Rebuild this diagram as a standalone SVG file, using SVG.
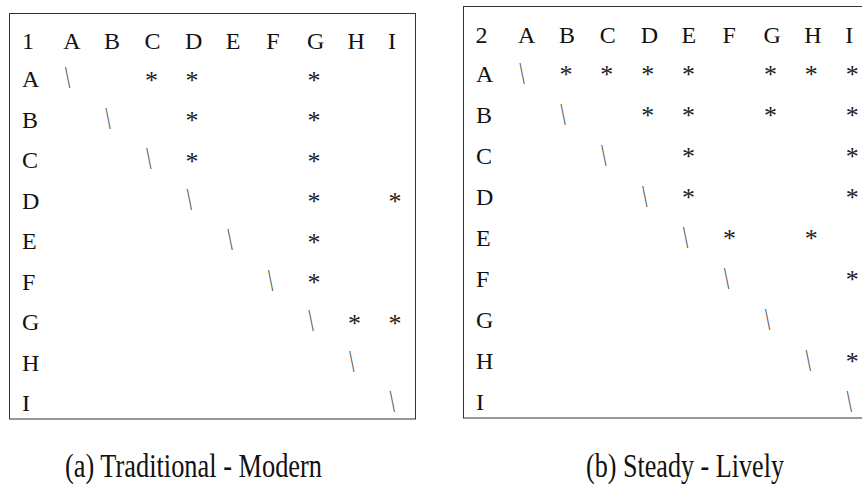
<svg xmlns="http://www.w3.org/2000/svg" width="862" height="492" viewBox="0 0 862 492">
<style>
.box{fill:none;stroke:#333;stroke-width:1}
.t{font-family:"Liberation Serif","Times New Roman",serif;font-size:24px;fill:#111}
.s{font-family:"Liberation Serif","Times New Roman",serif;font-size:26px;fill:#222}
.bs{font-family:"Liberation Serif","Times New Roman",serif;font-size:31px;fill:#444}
.cap{font-family:"Liberation Serif","Times New Roman",serif;font-size:33px;fill:#111}
</style>
<rect width="862" height="492" fill="#fff"/>

<g id="matrix1">
<rect class="box" x="9.5" y="13.5" width="406" height="405.5"/>
<g class="t">
<text x="22" y="48.5">1</text>
<text x="63.3" y="48.5">A</text><text x="103.9" y="48.5">B</text><text x="144.5" y="48.5">C</text><text x="185.1" y="48.5">D</text><text x="225.7" y="48.5">E</text><text x="266.3" y="48.5">F</text><text x="306.9" y="48.5">G</text><text x="347.5" y="48.5">H</text><text x="388.1" y="48.5">I</text>
<text x="22" y="87.3">A</text><text x="22" y="127.8">B</text><text x="22" y="168.3">C</text><text x="22" y="208.8">D</text><text x="22" y="249.3">E</text><text x="22" y="289.8">F</text><text x="22" y="330.3">G</text><text x="22" y="370.8">H</text><text x="22" y="411.3">I</text>
</g>
<g class="s">
<text x="145" y="88.5">*</text><text x="185.6" y="88.5">*</text><text x="307.4" y="88.5">*</text>
<text x="185.6" y="129">*</text><text x="307.4" y="129">*</text>
<text x="185.6" y="169.5">*</text><text x="307.4" y="169.5">*</text>
<text x="307.4" y="210">*</text><text x="388.6" y="210">*</text>
<text x="307.4" y="250.5">*</text>
<text x="307.4" y="291">*</text>
<text x="348" y="331.5">*</text><text x="388.6" y="331.5">*</text>
</g>
<g class="bs">
<text transform="translate(65,88) scale(0.6,1)">\</text>
<text transform="translate(105.6,128.5) scale(0.6,1)">\</text>
<text transform="translate(146.2,169) scale(0.6,1)">\</text>
<text transform="translate(186.8,209.5) scale(0.6,1)">\</text>
<text transform="translate(227.4,250) scale(0.6,1)">\</text>
<text transform="translate(268,290.5) scale(0.6,1)">\</text>
<text transform="translate(308.6,331) scale(0.6,1)">\</text>
<text transform="translate(349.2,371.5) scale(0.6,1)">\</text>
<text transform="translate(389.8,412) scale(0.6,1)">\</text>
</g>
</g>

<g id="matrix2">
<rect class="box" x="463.5" y="6.5" width="420" height="411.5"/>
<g class="t">
<text x="475.5" y="43">2</text>
<text x="518" y="43">A</text><text x="558.9" y="43">B</text><text x="599.8" y="43">C</text><text x="640.7" y="43">D</text><text x="681.6" y="43">E</text><text x="722.5" y="43">F</text><text x="763.4" y="43">G</text><text x="804.3" y="43">H</text><text x="845.2" y="43">I</text>
<text x="476" y="82">A</text><text x="476" y="123">B</text><text x="476" y="164">C</text><text x="476" y="205">D</text><text x="476" y="246">E</text><text x="476" y="287">F</text><text x="476" y="328">G</text><text x="476" y="369">H</text><text x="476" y="410">I</text>
</g>
<g class="s">
<text x="559.4" y="83.2">*</text><text x="600.3" y="83.2">*</text><text x="641.2" y="83.2">*</text><text x="682.1" y="83.2">*</text><text x="763.9" y="83.2">*</text><text x="804.8" y="83.2">*</text><text x="845.7" y="83.2">*</text>
<text x="641.2" y="124.2">*</text><text x="682.1" y="124.2">*</text><text x="763.9" y="124.2">*</text><text x="845.7" y="124.2">*</text>
<text x="682.1" y="165.2">*</text><text x="845.7" y="165.2">*</text>
<text x="682.1" y="206.2">*</text><text x="845.7" y="206.2">*</text>
<text x="723" y="247.2">*</text><text x="804.8" y="247.2">*</text>
<text x="845.7" y="288.2">*</text>
<text x="845.7" y="370.2">*</text>
</g>
<g class="bs">
<text transform="translate(519.5,84) scale(0.6,1)">\</text>
<text transform="translate(560.4,125) scale(0.6,1)">\</text>
<text transform="translate(601.3,166) scale(0.6,1)">\</text>
<text transform="translate(642.2,207) scale(0.6,1)">\</text>
<text transform="translate(683.1,248) scale(0.6,1)">\</text>
<text transform="translate(724,289) scale(0.6,1)">\</text>
<text transform="translate(764.9,330) scale(0.6,1)">\</text>
<text transform="translate(805.8,371) scale(0.6,1)">\</text>
<text transform="translate(846.7,412) scale(0.6,1)">\</text>
</g>
</g>

<g id="captions">
<text class="cap" x="65" y="477" textLength="257" lengthAdjust="spacingAndGlyphs">(a) Traditional - Modern</text>
<text class="cap" x="586" y="477" textLength="198" lengthAdjust="spacingAndGlyphs">(b) Steady - Lively</text>
</g>
</svg>
